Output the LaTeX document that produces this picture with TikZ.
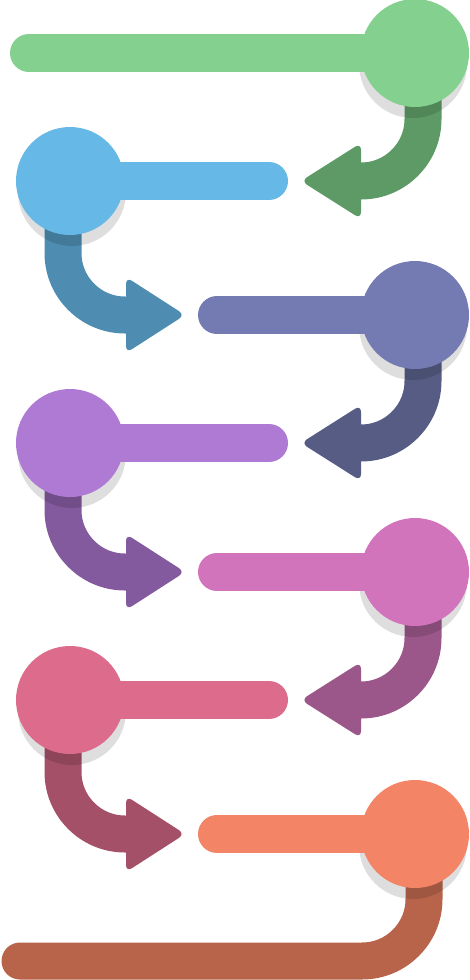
\documentclass[tikz,border=0pt]{standalone}
\definecolor{cA}{HTML}{83D08F}\definecolor{dA}{HTML}{5E9A66}
\definecolor{cB}{HTML}{66B8E6}\definecolor{dB}{HTML}{4E8DB1}
\definecolor{cC}{HTML}{747BB2}\definecolor{dC}{HTML}{565C84}
\definecolor{cD}{HTML}{AE7AD4}\definecolor{dD}{HTML}{845A9E}
\definecolor{cE}{HTML}{D274BC}\definecolor{dE}{HTML}{9B5789}
\definecolor{cF}{HTML}{DD6B8C}\definecolor{dF}{HTML}{A45068}
\definecolor{cG}{HTML}{F38466}\definecolor{dG}{HTML}{B7644B}
\tikzset{
  dot/.style={circle, minimum size=108pt, inner sep=0pt, fill=#1},
  barline/.style={line width=38pt, line cap=round, draw=#1},
  stemline/.style={line width=37pt, draw=#1},
  headtri/.style={fill=#1, rounded corners=7pt},
  shade/.style={fill=black, fill opacity=0.13},
}
\begin{document}
\begin{tikzpicture}[x=1pt,y=-1pt]
\useasboundingbox (0,0) rectangle (469,980);
% ---------- arrows (drawn first) ----------
\coordinate (s1) at (423,53);
\draw[stemline=dA] (s1) -- (423,119) arc(0:-90:62pt) -- (356,181);
\fill[headtri=dA] (361,143) -- (301,181) -- (361,219) -- cycle;
\coordinate (s2) at (63,181);
\draw[stemline=dB] (s2) -- (63,253) arc(180:270:62pt) -- (131,315);
\fill[headtri=dB] (126,277) -- (185,315) -- (126,353) -- cycle;
\coordinate (s3) at (423,315);
\draw[stemline=dC] (s3) -- (423,381) arc(0:-90:62pt) -- (356,443);
\fill[headtri=dC] (361,405) -- (301,443) -- (361,481) -- cycle;
\coordinate (s4) at (63,443);
\draw[stemline=dD] (s4) -- (63,510) arc(180:270:62pt) -- (131,572);
\fill[headtri=dD] (126,534) -- (185,572) -- (126,610) -- cycle;
\coordinate (s5) at (423,572);
\draw[stemline=dE] (s5) -- (423,638) arc(0:-90:62pt) -- (356,700);
\fill[headtri=dE] (361,662) -- (301,700) -- (361,738) -- cycle;
\coordinate (s6) at (63,700);
\draw[stemline=dF] (s6) -- (63,772) arc(180:270:62pt) -- (131,834);
\fill[headtri=dF] (126,796) -- (185,834) -- (126,872) -- cycle;
\coordinate (s7) at (424,834);
\coordinate (e7) at (20,961);
\draw[line width=37pt, draw=dG, line cap=round, line join=round] (s7) -- (424,899) arc(0:-90:62pt) -- (e7);
% ---------- shadows ----------
\fill[shade] (413,64) circle (54pt);
\fill[shade] (72,192) circle (54pt);
\fill[shade] (413,326) circle (54pt);
\fill[shade] (72,454) circle (54pt);
\fill[shade] (413,583) circle (54pt);
\fill[shade] (72,711) circle (54pt);
\fill[shade] (413,845) circle (54pt);
% ---------- bars ----------
\coordinate (b1) at (29,53);
\coordinate (b2) at (269,181);
\coordinate (b3) at (217,315);
\coordinate (b4) at (269,443);
\coordinate (b5) at (217,572);
\coordinate (b6) at (269,700);
\coordinate (b7) at (217,834);
\draw[barline=cA] (b1) -- (415,53);
\draw[barline=cB] (b2) -- (70,181);
\draw[barline=cC] (b3) -- (415,315);
\draw[barline=cD] (b4) -- (70,443);
\draw[barline=cE] (b5) -- (415,572);
\draw[barline=cF] (b6) -- (70,700);
\draw[barline=cG] (b7) -- (415,834);
% ---------- circles ----------
\node[dot=cA] (n1) at (415,53) {};
\node[dot=cB] (n2) at (70,181) {};
\node[dot=cC] (n3) at (415,315) {};
\node[dot=cD] (n4) at (70,443) {};
\node[dot=cE] (n5) at (415,572) {};
\node[dot=cF] (n6) at (70,700) {};
\node[dot=cG] (n7) at (415,834) {};
\end{tikzpicture}
\end{document}
